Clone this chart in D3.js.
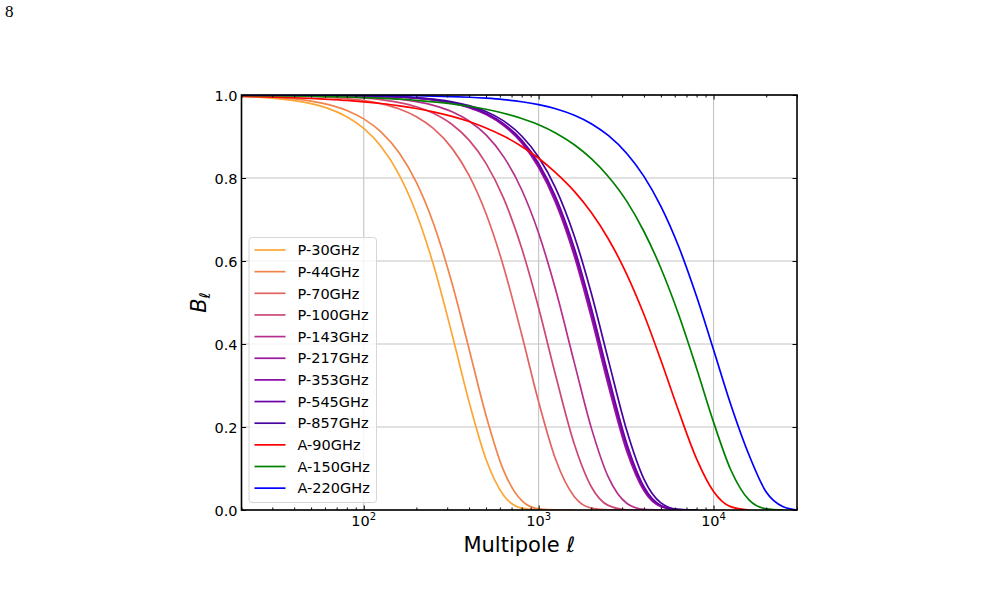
<!DOCTYPE html>
<html>
<head>
<meta charset="utf-8">
<script src="https://cdn.jsdelivr.net/npm/d3@7"></script>
<style>
  body { margin: 0; background: #fff; }
  svg text { font-family: "DejaVu Sans", sans-serif; fill: #000; }
</style>
</head>
<body>
<script>
const width = 1006;
const height = 590;

// Multipole grid shared by every beam curve.
const ells = [20, 25, 32, 40, 50, 63, 80, 100, 125, 160, 200, 250, 320, 400, 500, 630,
  800, 1000, 1250, 1600, 2000, 2500, 3200, 4000, 5000, 6300, 8000, 10000, 12500,
  16000, 20000, 25000, 30000];

const labels = ["P-30GHz", "P-44GHz", "P-70GHz", "P-100GHz", "P-143GHz", "P-217GHz",
  "P-353GHz", "P-545GHz", "P-857GHz", "A-90GHz", "A-150GHz", "A-220GHz"];

// B_ell, one value per ell above (series stop where they hit 0).
const p30 = [0.9966, 0.9948, 0.9914, 0.9866, 0.9792, 0.9672, 0.9476, 0.9194, 0.8769, 0.8064,
  0.7144, 0.5914, 0.4229, 0.2606, 0.1223, 0.0356, 0.0046, 0.0002, 0];
const p44 = [0.9976, 0.9963, 0.9940, 0.9906, 0.9853, 0.9768, 0.9628, 0.9425, 0.9117, 0.8594,
  0.7892, 0.6909, 0.5456, 0.3880, 0.2278, 0.0955, 0.0227, 0.0027, 0.0001, 0];
const p70 = [0.9995, 0.9992, 0.9986, 0.9979, 0.9966, 0.9947, 0.9914, 0.9866, 0.9792, 0.9662,
  0.9476, 0.9194, 0.8714, 0.8064, 0.7144, 0.5864, 0.4229, 0.2606, 0.1223, 0.0320, 0.0046,
  0.0002, 0];
const p100 = [0.9997, 0.9996, 0.9993, 0.9988, 0.9982, 0.9971, 0.9954, 0.9928, 0.9888, 0.9817,
  0.9716, 0.9560, 0.9289, 0.8912, 0.8353, 0.7514, 0.6308, 0.4868, 0.3247, 0.1583, 0.0561,
  0.0111, 0.0006, 0];
const p143 = [0.9998, 0.9997, 0.9996, 0.9994, 0.9990, 0.9984, 0.9974, 0.9960, 0.9937, 0.9897,
  0.9839, 0.9750, 0.9594, 0.9373, 0.9037, 0.8515, 0.7717, 0.6670, 0.5311, 0.3546, 0.1979,
  0.0796, 0.0158, 0.0015, 0];
const p217 = [0.9999, 0.9999, 0.9998, 0.9997, 0.9995, 0.9992, 0.9988, 0.9981, 0.9970, 0.9951,
  0.9923, 0.9881, 0.9805, 0.9697, 0.9531, 0.9266, 0.8843, 0.8251, 0.7406, 0.6114, 0.4636,
  0.3008, 0.1397, 0.0462, 0.0082, 0.0005, 0];
const p353 = [0.9999, 0.9999, 0.9998, 0.9997, 0.9995, 0.9993, 0.9988, 0.9981, 0.9971, 0.9953,
  0.9926, 0.9884, 0.9811, 0.9707, 0.9546, 0.9288, 0.8877, 0.8302, 0.7477, 0.6211, 0.4751,
  0.3126, 0.1488, 0.0510, 0.0096, 0.0006, 0];
const p545 = [0.9999, 0.9999, 0.9998, 0.9997, 0.9996, 0.9993, 0.9988, 0.9982, 0.9972, 0.9954,
  0.9928, 0.9888, 0.9817, 0.9716, 0.9560, 0.9310, 0.8912, 0.8353, 0.7548, 0.6308, 0.4868,
  0.3247, 0.1583, 0.0561, 0.0111, 0.0008, 0];
const p857 = [0.9999, 0.9999, 0.9998, 0.9997, 0.9996, 0.9994, 0.9990, 0.9984, 0.9975, 0.9958,
  0.9935, 0.9899, 0.9835, 0.9743, 0.9602, 0.9376, 0.9012, 0.8501, 0.7758, 0.6598, 0.5221,
  0.3623, 0.1895, 0.0743, 0.0172, 0.0016, 0];
const a90 = [0.9967, 0.9959, 0.9947, 0.9934, 0.9918, 0.9896, 0.9869, 0.9836, 0.9795, 0.9739,
  0.9674, 0.9595, 0.9485, 0.9360, 0.9206, 0.9011, 0.8761, 0.8476, 0.8129, 0.7678, 0.7168,
  0.6536, 0.5668, 0.4711, 0.3608, 0.2397, 0.1232, 0.0446, 0.0081, 0];
const a150 = [0.9989, 0.9987, 0.9982, 0.9977, 0.9971, 0.9963, 0.9952, 0.9939, 0.9923, 0.9899,
  0.9872, 0.9836, 0.9787, 0.9729, 0.9656, 0.9561, 0.9434, 0.9284, 0.9087, 0.8802, 0.8466,
  0.8037, 0.7430, 0.6711, 0.5826, 0.4725, 0.3411, 0.2117, 0.0982, 0.0236, 0.0027, 0];
const a220 = [1.0, 0.9999, 0.9999, 0.9999, 0.9998, 0.9997, 0.9996, 0.9994, 0.9992, 0.9988,
  0.9982, 0.9975, 0.9962, 0.9946, 0.9923, 0.9889, 0.9837, 0.9768, 0.9669, 0.9512, 0.9309,
  0.9025, 0.8586, 0.8039, 0.7316, 0.6360, 0.5143, 0.3861, 0.2562, 0.1312, 0.0432, 0.0077, 0];

const seriesValues = [p30, p44, p70, p100, p143, p217, p353, p545, p857, a90, a150, a220];

const colors = ["#fca636", "#f1844b", "#e16462", "#cc4778", "#b52f8c", "#9c179e",
  "#8606a6", "#6a00a8", "#46039f", "#ff0000", "#008000", "#0000ff"];

const xMajor = [100, 1000, 10000];
const xMinor = [20, 30, 40, 50, 60, 70, 80, 90, 200, 300, 400, 500, 600, 700, 800, 900,
  2000, 3000, 4000, 5000, 6000, 7000, 8000, 9000, 20000, 30000];
const xExponents = ["2", "3", "4"];
const yTicks = [0, 0.2, 0.4, 0.6, 0.8, 1.0];

// Plot box.
const plot = { left: 241.5, right: 797, top: 95, bottom: 510 };

const x = d3.scaleLog().domain([20, 30000]).range([plot.left, plot.right]);
const y = d3.scaleLinear().domain([0, 1]).range([plot.bottom, plot.top]);

const svg = d3.select("body").append("svg")
  .attr("width", width)
  .attr("height", height);

// Page number in the corner.
svg.append("text")
  .attr("x", 5)
  .attr("y", 17)
  .style("font-family", "'Liberation Serif', 'DejaVu Serif', serif")
  .style("font-size", "17px")
  .text("8");

svg.append("clipPath").attr("id", "plot-clip")
  .append("rect")
  .attr("x", plot.left).attr("y", plot.top)
  .attr("width", plot.right - plot.left).attr("height", plot.bottom - plot.top);

// Grid lines.
const grid = svg.append("g").attr("stroke", "#c4c4c4").attr("stroke-width", 1.1);
grid.selectAll(".gx").data(xMajor).enter().append("line")
  .attr("x1", d => x(d)).attr("x2", d => x(d))
  .attr("y1", plot.top).attr("y2", plot.bottom);
grid.selectAll(".gy").data(yTicks).enter().append("line")
  .attr("x1", plot.left).attr("x2", plot.right)
  .attr("y1", d => y(d)).attr("y2", d => y(d));

// Beam curves.
const line = d3.line()
  .x(d => x(d[0]))
  .y(d => y(d[1]))
  .curve(d3.curveMonotoneX);

svg.append("g").attr("clip-path", "url(#plot-clip)")
  .selectAll("path")
  .data(seriesValues)
  .enter()
  .append("path")
  .attr("fill", "none")
  .attr("stroke", (d, i) => colors[i])
  .attr("stroke-width", 1.7)
  .attr("d", vals => line(vals.map((v, i) => [ells[i], v])));

// Axes, ticks pointing inwards on all four sides.
svg.append("g")
  .attr("transform", `translate(0,${plot.bottom})`)
  .call(d3.axisBottom(x).tickValues(xMajor).tickFormat("").tickSizeInner(-4.5).tickSizeOuter(0));
svg.append("g")
  .attr("transform", `translate(0,${plot.bottom})`)
  .call(d3.axisBottom(x).tickValues(xMinor).tickFormat("").tickSizeInner(-2.5).tickSizeOuter(0));
svg.append("g")
  .attr("transform", `translate(0,${plot.top})`)
  .call(d3.axisTop(x).tickValues(xMajor).tickFormat("").tickSizeInner(-4.5).tickSizeOuter(0));
svg.append("g")
  .attr("transform", `translate(0,${plot.top})`)
  .call(d3.axisTop(x).tickValues(xMinor).tickFormat("").tickSizeInner(-2.5).tickSizeOuter(0));
svg.append("g")
  .attr("transform", `translate(${plot.left},0)`)
  .call(d3.axisLeft(y).tickValues(yTicks).tickFormat(d3.format(".1f"))
    .tickSizeInner(-4.5).tickSizeOuter(0).tickPadding(4))
  .call(g => g.selectAll("text").style("font-size", "14.5px").attr("dy", "0.36em"));
svg.append("g")
  .attr("transform", `translate(${plot.right},0)`)
  .call(d3.axisRight(y).tickValues(yTicks).tickFormat("").tickSizeInner(-4.5).tickSizeOuter(0));

svg.selectAll(".domain").remove();
svg.selectAll(".tick line").attr("stroke", "#000").attr("stroke-width", 1);

// Log tick labels 10^n.
const xLabels = svg.append("g");
xMajor.forEach((v, i) => {
  const t = xLabels.append("text")
    .attr("x", x(v))
    .attr("y", plot.bottom + 16)
    .attr("text-anchor", "middle")
    .style("font-size", "14.5px");
  t.append("tspan").text("10");
  t.append("tspan").attr("dy", -6).style("font-size", "10px").text(xExponents[i]);
});

// Frame.
svg.append("rect")
  .attr("x", plot.left).attr("y", plot.top)
  .attr("width", plot.right - plot.left).attr("height", plot.bottom - plot.top)
  .attr("fill", "none")
  .attr("stroke", "#000")
  .attr("stroke-width", 1.6);

// Axis titles.
svg.append("text")
  .attr("x", (plot.left + plot.right) / 2)
  .attr("y", 552)
  .attr("text-anchor", "middle")
  .style("font-size", "21px")
  .text("Multipole \u2113");

const yTitle = svg.append("text")
  .attr("transform", `translate(206,${(plot.top + plot.bottom) / 2}) rotate(-90)`)
  .attr("text-anchor", "middle")
  .style("font-size", "21px")
  .style("font-style", "italic");
yTitle.append("tspan").text("B");
yTitle.append("tspan").attr("dy", 4).style("font-size", "15px").text("\u2113");

// Legend.
const legend = svg.append("g");
legend.append("rect")
  .attr("x", 249).attr("y", 237.5)
  .attr("width", 127.5).attr("height", 265)
  .attr("rx", 3)
  .attr("fill", "#fff").attr("fill-opacity", 0.8)
  .attr("stroke", "#d6d6d6").attr("stroke-width", 1);

const entry = legend.selectAll(".entry")
  .data(labels)
  .enter()
  .append("g")
  .attr("transform", (d, i) => `translate(0,${250 + i * 21.65})`);
entry.append("line")
  .attr("x1", 254.5).attr("x2", 285.5)
  .attr("stroke", (d, i) => colors[i])
  .attr("stroke-width", 1.7);
entry.append("text")
  .attr("x", 297.5)
  .attr("dy", "0.36em")
  .style("font-size", "14.5px")
  .text(d => d);
</script>
</body>
</html>
